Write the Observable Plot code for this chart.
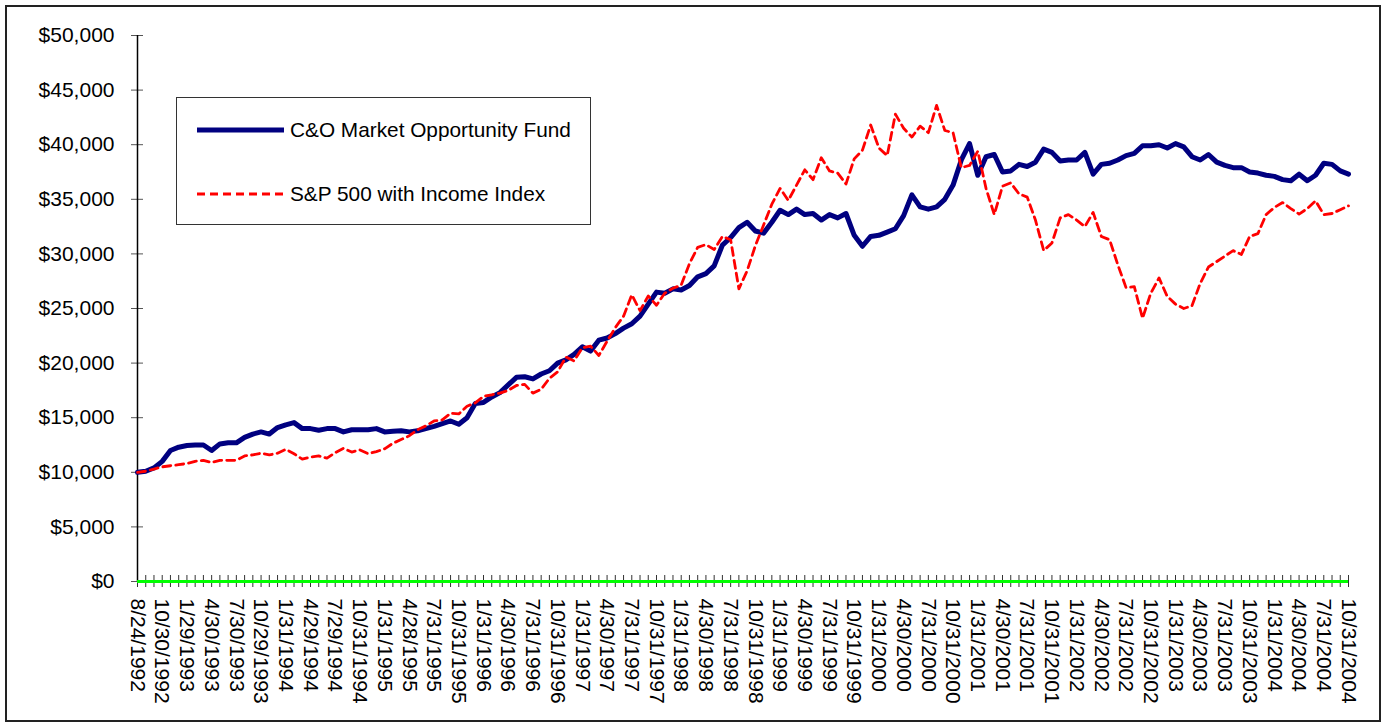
<!DOCTYPE html>
<html><head><meta charset="utf-8">
<script src="https://cdn.jsdelivr.net/npm/d3@7"></script>
<script src="https://cdn.jsdelivr.net/npm/@observablehq/plot@0.6"></script>
<style>
body{margin:0;background:#fff;font-family:"Liberation Sans",Arial,sans-serif}
#wrap{position:relative;width:1386px;height:724px;overflow:hidden}
#border{position:absolute;left:5px;top:5px;width:1372px;height:713px;border:2px solid #222;pointer-events:none}
#legend{position:absolute;left:176px;top:97px;width:413px;height:126px;border:1px solid #333;background:#fff}
#legend .t{position:absolute;left:113px;font-size:20.8px;line-height:24px;white-space:nowrap;color:#000}
</style></head><body><div id="wrap"></div>
<script>
// values in thousands of dollars, one per category (8/24/1992, then month ends to 10/31/2004)
const fund = [10.0,10.1,10.4,11.0,12.0,12.3,12.45,12.5,12.5,12.0,12.6,12.7,12.7,13.2,13.5,13.7,13.5,14.1,14.35,14.55,
14.0,14.0,13.85,14.0,14.0,13.7,13.9,13.9,13.9,14.0,13.7,13.75,13.8,13.7,13.8,14.0,14.2,14.45,14.7,14.4,
15.0,16.3,16.4,16.9,17.3,18.0,18.7,18.75,18.55,19.0,19.3,20.0,20.3,20.8,21.5,21.1,22.1,22.3,22.7,23.2,
23.6,24.3,25.4,26.5,26.4,26.8,26.7,27.1,27.9,28.2,28.9,30.8,31.5,32.4,32.9,32.1,31.9,32.9,34.0,33.6,
34.1,33.6,33.7,33.1,33.6,33.3,33.7,31.7,30.7,31.6,31.7,32.0,32.3,33.5,35.4,34.3,34.1,34.3,35.0,36.3,
38.6,40.1,37.2,38.9,39.1,37.5,37.6,38.2,38.0,38.4,39.6,39.3,38.5,38.6,38.6,39.3,37.3,38.2,38.3,38.6,
39.0,39.2,39.9,39.9,40.0,39.7,40.1,39.8,38.9,38.6,39.1,38.4,38.1,37.9,37.9,37.5,37.4,37.2,37.1,36.8,
36.7,37.3,36.7,37.2,38.3,38.2,37.6,37.3];
const spx = [10.0,10.1,10.3,10.5,10.6,10.7,10.8,11.0,11.1,10.9,11.1,11.1,11.1,11.5,11.6,11.75,11.6,11.75,12.1,11.7,
11.2,11.4,11.5,11.3,11.8,12.2,11.85,12.05,11.7,11.9,12.15,12.65,13.0,13.35,13.9,14.25,14.7,14.8,15.4,15.35,
16.05,16.35,16.95,17.1,17.25,17.5,17.95,18.05,17.25,17.6,18.6,19.2,20.55,20.2,21.4,21.55,20.7,22.0,23.25,24.3,
26.25,24.8,26.15,25.3,26.4,26.85,27.15,29.1,30.6,30.85,30.4,31.6,31.3,26.8,28.45,30.75,32.65,34.55,36.0,34.9,
36.3,37.7,36.8,38.8,37.6,37.4,36.4,38.7,39.5,41.8,39.7,39.0,42.8,41.5,40.7,41.7,41.1,43.6,41.3,41.1,
37.9,38.1,39.4,36.0,33.6,36.2,36.5,35.5,35.2,33.1,30.3,31.0,33.3,33.6,33.1,32.5,33.8,31.6,31.3,29.0,
26.9,27.0,24.1,26.4,27.8,26.1,25.4,25.0,25.25,27.3,28.8,29.3,29.8,30.3,29.95,31.6,31.85,33.6,34.25,34.7,
34.15,33.65,34.15,34.85,33.6,33.7,34.05,34.4];
const tickLabels = ["8/24/1992","10/30/1992","1/29/1993","4/30/1993","7/30/1993","10/29/1993","1/31/1994","4/29/1994","7/29/1994","10/31/1994",
"1/31/1995","4/28/1995","7/31/1995","10/31/1995","1/31/1996","4/30/1996","7/31/1996","10/31/1996","1/31/1997","4/30/1997",
"7/31/1997","10/31/1997","1/31/1998","4/30/1998","7/31/1998","10/31/1998","1/31/1999","4/30/1999","7/31/1999","10/31/1999",
"1/31/2000","4/30/2000","7/31/2000","10/31/2000","1/31/2001","4/30/2001","7/31/2001","10/31/2001","1/31/2002","4/30/2002",
"7/31/2002","10/31/2002","1/31/2003","4/30/2003","7/31/2003","10/31/2003","1/31/2004","4/30/2004","7/31/2004","10/31/2004"];
const yTicks = [0,5000,10000,15000,20000,25000,30000,35000,40000,45000,50000];
const seriesNames = ["C&O Market Opportunity Fund","S&P 500 with Income Index"];

const fundData = fund.map((v,i)=>({i, v:v*1000}));
const spxData = spx.map((v,i)=>({i, v:v*1000}));
const idx = d3.range(fund.length);
const fmt = d => "$" + d3.format(",")(d);

const chart = Plot.plot({
  width:1386, height:724,
  marginLeft:137, marginRight:38, marginTop:35, marginBottom:143,
  style:{fontFamily:"'Liberation Sans', Arial, sans-serif", fontSize:"21px", color:"#000", background:"transparent", overflow:"visible"},
  x:{type:"linear", domain:[0, fund.length-1]},
  y:{domain:[0,50000]},
  marks:[
    Plot.axisY({ticks:yTicks, tickSize:0, tickPadding:23, tickFormat:fmt, label:null}),
    Plot.axisY({ticks:yTicks, tickSize:12, dx:6, tickFormat:()=>"", label:null, stroke:"#555"}),
    Plot.axisX({ticks:idx, tickSize:12, dy:-6, tickFormat:()=>"", label:null, stroke:"#333"}),
    Plot.axisX({ticks:idx.filter(i=>i%3===0), tickSize:0, tickPadding:17, tickRotate:90, tickFormat:i=>tickLabels[i/3], label:null}),
    Plot.ruleX([0], {stroke:"#000", strokeWidth:1.5}),
    Plot.ruleY([0], {stroke:"#00ff00", strokeWidth:3}),
    Plot.line(fundData, {x:"i", y:"v", stroke:"#000080", strokeWidth:5, strokeLinejoin:"round"}),
    Plot.line(spxData, {x:"i", y:"v", stroke:"#ff0000", strokeWidth:2.8, strokeDasharray:"8,5"})
  ]
});
const wrap = document.getElementById("wrap");
wrap.appendChild(chart);
const border = document.createElement("div"); border.id="border"; wrap.appendChild(border);
const lg = document.createElement("div"); lg.id="legend";
lg.innerHTML = `<svg width="413" height="126" style="position:absolute;left:0;top:0">
<line x1="20" x2="107" y1="32" y2="32" stroke="#000080" stroke-width="5"/>
<line x1="20" x2="107" y1="96" y2="96" stroke="#ff0000" stroke-width="2.8" stroke-dasharray="8,5"/></svg>`;
seriesNames.forEach((n,k)=>{const t=document.createElement("div");t.className="t";t.style.top=(k?84:20)+"px";t.textContent=n;lg.appendChild(t);});
wrap.appendChild(lg);
</script></body></html>
